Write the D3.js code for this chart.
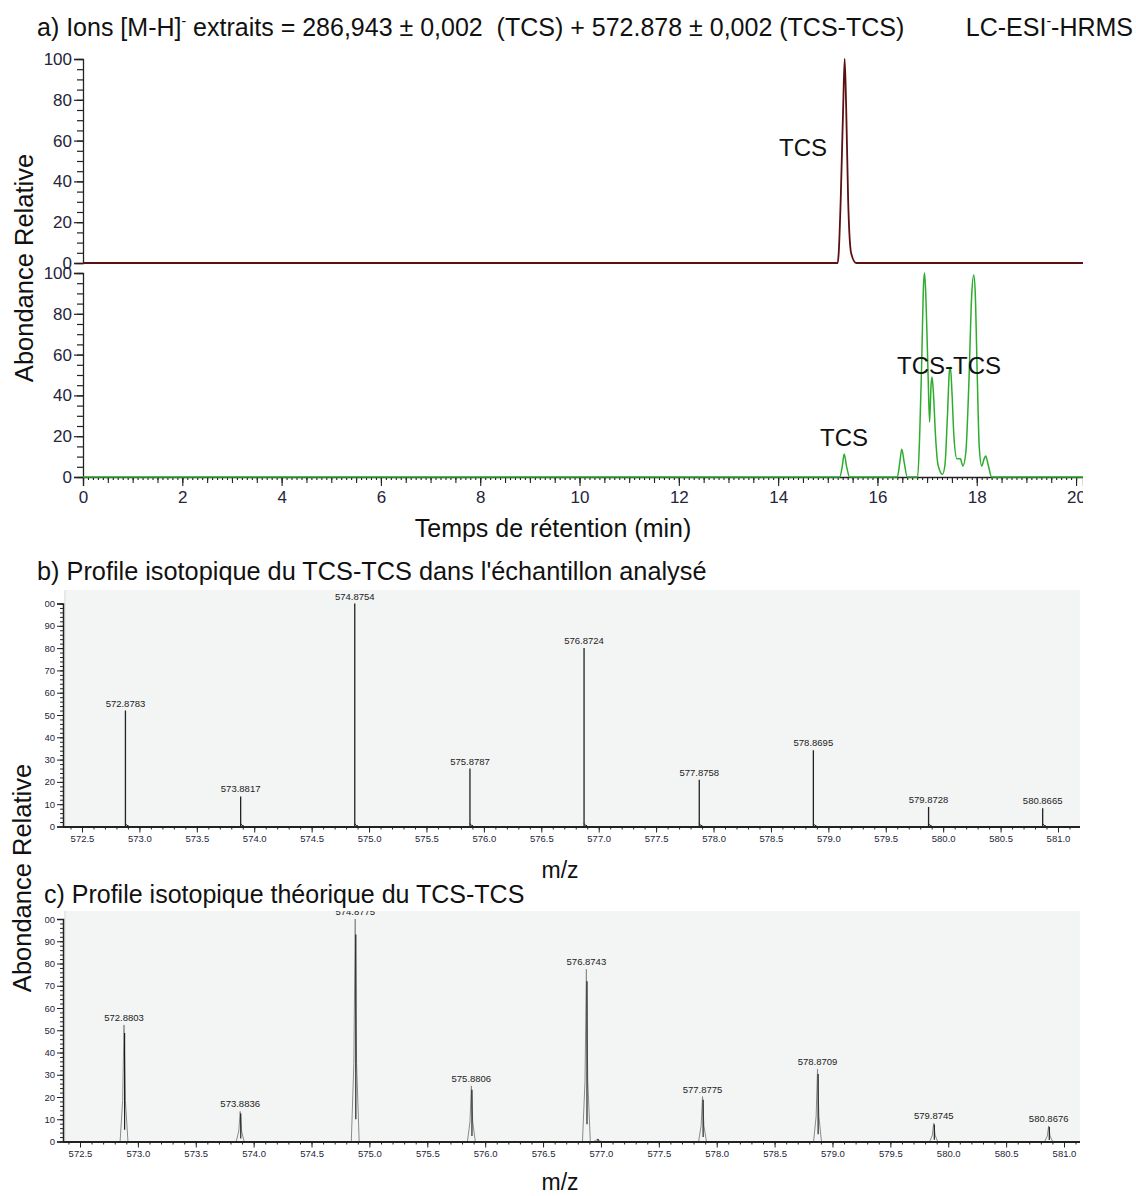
<!DOCTYPE html>
<html><head><meta charset="utf-8">
<script src="https://cdn.jsdelivr.net/npm/d3@7"></script>
<style>
body{margin:0;background:#fff}
text{font-family:"Liberation Sans",Arial,Helvetica,sans-serif;white-space:pre}
</style>
</head><body>
<svg id="chart" width="1136" height="1196"></svg>
<script>
// ---------- DATA ----------
// a) top chromatogram: TCS extracted ion (time min, relative abundance)
const tcsTime = [0, 15.20, 15.22, 15.26, 15.31, 15.34, 15.37, 15.41, 15.47, 15.57, 20.14];
const tcsAbund = [0, 0, 4.9, 30.9, 76.6, 100, 76.6, 30.9, 4.9, 0, 0];
// a) bottom chromatogram: TCS-TCS extracted ion
const dimerTime = [0, 15.24, 15.29, 15.33, 15.38, 15.44, 16.40, 16.45, 16.49, 16.54, 16.60,
  16.81, 16.85, 16.89, 16.93, 16.95, 16.98, 17.02, 17.05, 17.08, 17.10, 17.13, 17.17, 17.22,
  17.31, 17.36, 17.41, 17.45, 17.47, 17.50, 17.54, 17.60, 17.67, 17.72, 17.78, 17.84, 17.90,
  17.94, 17.97, 18.01, 18.05, 18.10, 18.15, 18.18, 18.23, 18.30, 20.14];
const dimerAbund = [0, 0, 5, 11.3, 5, 0, 0, 7, 13.6, 7, 0,
  0, 20, 55, 95, 100, 85, 50, 27, 45, 49, 40, 20, 6,
  1.3, 6, 30, 52, 53.8, 42, 20, 9, 8.9, 5.4, 12, 45, 90,
  99, 90, 50, 15, 5.4, 9, 10.3, 6, 0, 0];
const timeTicks = [0, 2, 4, 6, 8, 10, 12, 14, 16, 18, 20];
const abundTicksA = [0, 20, 40, 60, 80, 100];

// b) observed isotopic profile
const obsMz = [572.8783, 573.8817, 574.8754, 575.8787, 576.8724, 577.8758, 578.8695, 579.8728, 580.8665];
const obsAb = [52, 13.5, 100, 26, 80, 21, 34.2, 8.7, 8.2];
// c) theoretical isotopic profile
const theoMz = [572.8803, 573.8836, 574.8775, 575.8806, 576.8743, 577.8775, 578.8709, 579.8745, 580.8676, 576.97];
const theoAb = [52.4, 13.5, 100, 25, 77.4, 20.2, 32.6, 8.2, 7, 1.2];
const theoLabelled = [true, true, true, true, true, true, true, true, true, false];
const mzTicks = [572.5, 573.0, 573.5, 574.0, 574.5, 575.0, 575.5, 576.0, 576.5, 577.0, 577.5, 578.0, 578.5, 579.0, 579.5, 580.0, 580.5, 581.0];
const abundTicksMS = [0, 10, 20, 30, 40, 50, 60, 70, 80, 90, 100];

// ---------- DRAW ----------
const svg = d3.select("#chart");
const defs = svg.append("defs");
const tickCol = "#25253a";

// ===== Panel a =====
const xA = d3.scaleLinear().domain([0, 20.14]).range([83, 1083]);
const yTop = d3.scaleLinear().domain([0, 100]).range([263, 59]);
const yBot = d3.scaleLinear().domain([0, 100]).range([477, 273]);

svg.append("text").attr("x", 37).attr("y", 36).attr("font-size", 25).attr("fill", "#111")
  .call(t => {
    t.append("tspan").text("a) Ions [M-H]");
    t.append("tspan").text("-").attr("font-size", 14).attr("dy", -10);
    t.append("tspan").text(" extraits = 286,943 \u00b1 0,002\u00a0 (TCS) + 572.878 \u00b1 0,002 (TCS-TCS)").attr("dy", 10);
  });
svg.append("text").attr("x", 1133).attr("y", 36).attr("font-size", 25).attr("fill", "#111")
  .attr("text-anchor", "end")
  .call(t => {
    t.append("tspan").text("LC-ESI");
    t.append("tspan").text("-").attr("font-size", 14).attr("dy", -10);
    t.append("tspan").text("-HRMS").attr("dy", 10);
  });

function yAxisA(scale) {
  const gMinor = svg.append("g").attr("transform", "translate(83,0)")
    .call(d3.axisLeft(scale).tickValues(d3.range(0, 101, 5)).tickSize(6).tickFormat(""));
  gMinor.select(".domain").remove();
  const g = svg.append("g").attr("transform", "translate(83,0)")
    .call(d3.axisLeft(scale).tickValues(abundTicksA).tickSize(9).tickPadding(2));
  g.selectAll("text").attr("font-size", 17).attr("fill", tickCol)
    .attr("font-family", "Liberation Sans, Arial, sans-serif");
  [g, gMinor].forEach(s => s.selectAll("line").attr("stroke", "#222").attr("stroke-width", 1.2));
  g.select(".domain").attr("stroke", "#222").attr("stroke-width", 1.3);
}
yAxisA(yTop);
yAxisA(yBot);

// x axis of panel a
defs.append("clipPath").attr("id", "clipAx").append("rect")
  .attr("x", 0).attr("y", 470).attr("width", 1083).attr("height", 40);
const gxA = svg.append("g").attr("clip-path", "url(#clipAx)");
const xMinorA = gxA.append("g").attr("transform", "translate(0,477)")
  .call(d3.axisBottom(xA).tickValues(d3.range(0, 201).map(d => d / 10)).tickSize(3).tickFormat(""));
const xMidA = gxA.append("g").attr("transform", "translate(0,477)")
  .call(d3.axisBottom(xA).tickValues(d3.range(0, 41).map(d => d / 2)).tickSize(6).tickFormat(""));
const xMajA = gxA.append("g").attr("transform", "translate(0,477)")
  .call(d3.axisBottom(xA).tickValues(timeTicks).tickSize(9).tickPadding(5).tickFormat(d3.format("d")));
[xMinorA, xMidA].forEach(s => s.select(".domain").remove());
gxA.selectAll("line").attr("stroke", "#222").attr("stroke-width", 1.1);
xMajA.select(".domain").attr("stroke", "#222").attr("stroke-width", 1.3);
xMajA.selectAll("text").attr("font-size", 17).attr("fill", tickCol)
  .attr("font-family", "Liberation Sans, Arial, sans-serif");

svg.append("text").attr("x", 553).attr("y", 537).attr("text-anchor", "middle")
  .attr("font-size", 25).attr("fill", "#111").text("Temps de rétention (min)");
svg.append("text").attr("transform", "translate(33,268) rotate(-90)").attr("text-anchor", "middle")
  .attr("font-size", 25.5).attr("fill", "#111").text("Abondance Relative");

// traces
const lineTop = d3.line().x((d, i) => xA(tcsTime[i])).y(d => yTop(d)).curve(d3.curveMonotoneX);
svg.append("path").attr("d", lineTop(tcsAbund)).attr("fill", "none")
  .attr("stroke", "#5c1010").attr("stroke-width", 1.8);
const lineBot = d3.line().x((d, i) => xA(dimerTime[i])).y(d => yBot(d)).curve(d3.curveMonotoneX);
svg.append("path").attr("d", lineBot(dimerAbund)).attr("fill", "none")
  .attr("stroke", "#2eac2e").attr("stroke-width", 1.5);

svg.append("text").attr("x", 779).attr("y", 156).attr("font-size", 24).attr("fill", "#111").text("TCS");
svg.append("text").attr("x", 820).attr("y", 446).attr("font-size", 24).attr("fill", "#111").text("TCS");
svg.append("text").attr("x", 897).attr("y", 374).attr("font-size", 24).attr("fill", "#111").text("TCS-TCS");

// ===== Panels b & c =====
function msPanel(opt) {
  const x = d3.scaleLinear().domain([572.5, 581.0]).range([opt.x0, opt.x1]);
  const y = d3.scaleLinear().domain([0, 100]).range([opt.yBase, opt.yTop]);
  svg.append("rect").attr("x", opt.axisX + 1).attr("y", opt.bgTop)
    .attr("width", 1080 - opt.axisX - 1).attr("height", opt.yBase - opt.bgTop)
    .attr("fill", "#f3f4f4");
  svg.append("line").attr("x1", opt.axisX + 2).attr("x2", opt.axisX + 2)
    .attr("y1", opt.bgTop).attr("y2", opt.yBase).attr("stroke", "#dcdcdc");

  const clipId = "clip" + opt.id;
  defs.append("clipPath").attr("id", clipId).append("rect")
    .attr("x", opt.axisX).attr("y", opt.bgTop).attr("width", 1080 - opt.axisX).attr("height", opt.yBase - opt.bgTop + 1);
  const plot = svg.append("g").attr("clip-path", `url(#${clipId})`);

  opt.mz.forEach((m, i) => {
    const h = opt.ab[i];
    if (opt.profile) {
      const w = 0.034;
      plot.append("path")
        .attr("d", `M${x(m - w)},${y(0)}L${x(m - w * 0.35)},${y(h * 0.35)}L${x(m)},${y(h)}L${x(m + w * 0.35)},${y(h * 0.35)}L${x(m + w)},${y(0)}`)
        .attr("fill", "none").attr("stroke", "#8a8a8a").attr("stroke-width", 1);
      plot.append("line").attr("x1", x(m) + 0.6).attr("x2", x(m) + 0.6)
        .attr("y1", y(h * 0.1)).attr("y2", y(h * 0.93)).attr("stroke", "#111").attr("stroke-width", 1.1);
    } else {
      plot.append("line").attr("x1", x(m)).attr("x2", x(m))
        .attr("y1", y(0)).attr("y2", y(h)).attr("stroke", "#222").attr("stroke-width", 1.3);
      plot.append("path").attr("d", `M${x(m)},${y(0) - 3}L${x(m) + 1.5},${y(0) - 1}L${x(m) + 3},${y(0) - 1}`)
        .attr("fill", "none").attr("stroke", "#222").attr("stroke-width", 1);
    }
    if (!opt.labelled || opt.labelled[i]) {
      plot.append("text").attr("x", x(m)).attr("y", y(h) - 4).attr("text-anchor", "middle")
        .attr("font-size", 9.5).attr("fill", "#222").text(d3.format(".4f")(m));
    }
  });

  // y axis
  const clipY = "clipY" + opt.id;
  defs.append("clipPath").attr("id", clipY).append("rect")
    .attr("x", 45).attr("y", opt.bgTop - 10).attr("width", 100).attr("height", opt.yBase - opt.bgTop + 20);
  const gy = svg.append("g").attr("clip-path", `url(#${clipY})`);
  const yMin = gy.append("g").attr("transform", `translate(${opt.axisX},0)`)
    .call(d3.axisLeft(y).tickValues(d3.range(0, 101, 2)).tickSize(3).tickFormat(""));
  yMin.select(".domain").remove();
  const yMaj = gy.append("g").attr("transform", `translate(${opt.axisX},0)`)
    .call(d3.axisLeft(y).tickValues(abundTicksMS).tickSize(6).tickPadding(2));
  gy.selectAll("line").attr("stroke", "#222");
  yMaj.select(".domain").attr("stroke", "#222").attr("stroke-width", 1.5);
  yMaj.selectAll("text").attr("font-size", 9.5).attr("fill", tickCol)
    .attr("font-family", "Liberation Sans, Arial, sans-serif");

  // x axis
  const gx = svg.append("g");
  const xMin = gx.append("g").attr("transform", `translate(0,${opt.yBase})`)
    .call(d3.axisBottom(x).tickValues(d3.range(5724, 5812).map(d => d / 10)).tickSize(3).tickFormat(""));
  xMin.select(".domain").remove();
  const xMaj = gx.append("g").attr("transform", `translate(0,${opt.yBase})`)
    .call(d3.axisBottom(x).tickValues(mzTicks).tickSize(6).tickPadding(3).tickFormat(d3.format(".1f")));
  xMaj.select(".domain").attr("d", `M${opt.axisX},0.5H1080`).attr("stroke", "#222").attr("stroke-width", 2);
  gx.selectAll("line").attr("stroke", "#222");
  xMaj.selectAll("text").attr("font-size", 9.5).attr("fill", tickCol)
    .attr("font-family", "Liberation Sans, Arial, sans-serif");

  svg.append("text").attr("x", 560).attr("y", opt.mzY).attr("text-anchor", "middle")
    .attr("font-size", 23).attr("fill", "#111").text("m/z");
  svg.append("text").attr("x", opt.titleX).attr("y", opt.titleY)
    .attr("font-size", opt.titleSize).attr("fill", "#111").text(opt.title);
}

msPanel({
  id: "b", mz: obsMz, ab: obsAb, profile: false,
  x0: 82, x1: 1058, yBase: 826.5, yTop: 603.5, bgTop: 590, axisX: 63,
  mzY: 878, title: "b) Profile isotopique du TCS-TCS dans l'échantillon analysé",
  titleX: 37, titleY: 580, titleSize: 25.3
});
msPanel({
  id: "c", mz: theoMz, ab: theoAb, labelled: theoLabelled, profile: true,
  x0: 80, x1: 1064, yBase: 1141.5, yTop: 919, bgTop: 911, axisX: 63,
  mzY: 1190, title: "c) Profile isotopique théorique du TCS-TCS",
  titleX: 44, titleY: 903, titleSize: 25
});

svg.append("text").attr("transform", "translate(31,878) rotate(-90)").attr("text-anchor", "middle")
  .attr("font-size", 25.5).attr("fill", "#111").text("Abondance Relative");
</script>
</body></html>
